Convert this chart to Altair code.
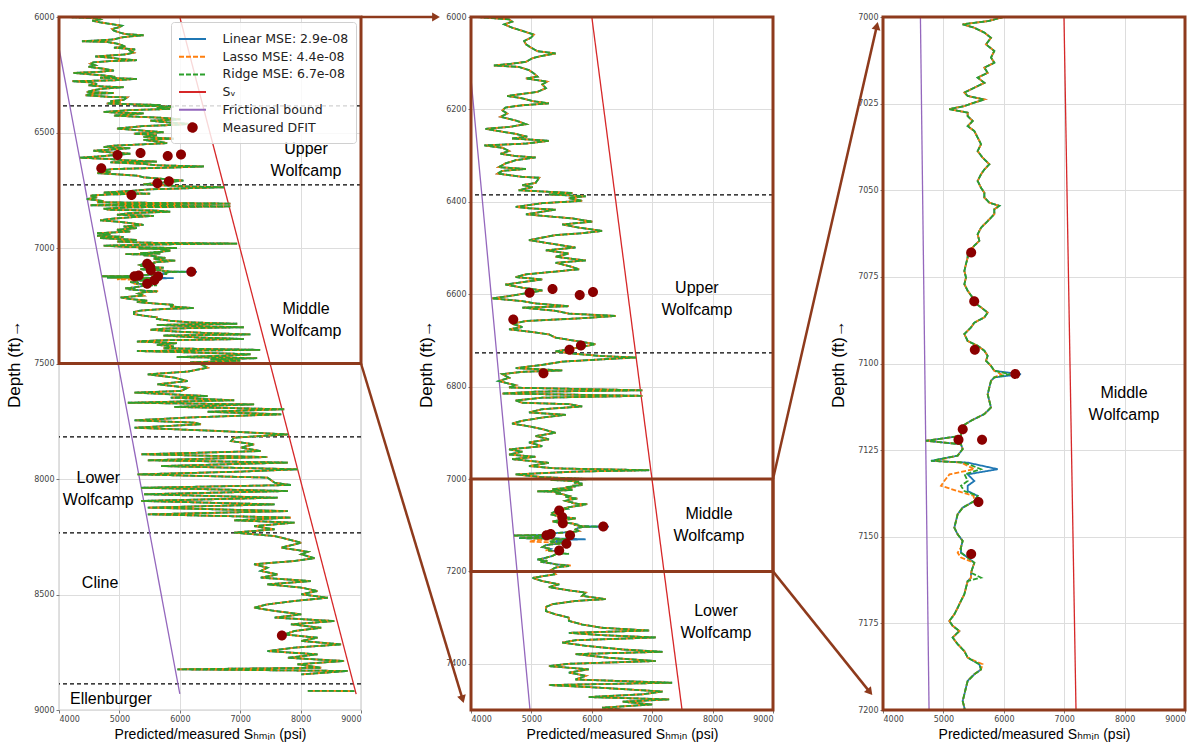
import math
import altair as alt
import pandas as pd

# ---------------------------------------------------------------------------
# Shmin log, 6000-7000 ft (the three regressions coincide at this scale)
upper_depth = [
    6000, 6005, 6010, 6016, 6023, 6030, 6038, 6045, 6052, 6059,
    6066, 6074, 6077, 6079, 6084, 6089, 6097, 6101, 6105, 6108,
    6115, 6122, 6129, 6133, 6140, 6146, 6154, 6162, 6171, 6176,
    6182, 6187, 6191, 6196, 6202, 6209, 6216, 6224, 6232, 6238,
    6242, 6247, 6253, 6259, 6263, 6266, 6268, 6274, 6278, 6283,
    6290, 6296, 6301, 6304, 6310, 6317, 6325, 6329, 6333, 6339,
    6346, 6348, 6359, 6364, 6368, 6375, 6378, 6381, 6384, 6388,
    6392, 6398, 6403, 6411, 6414, 6417, 6427, 6431, 6436, 6443,
    6449, 6456, 6463, 6468, 6472, 6483, 6492, 6499, 6505, 6512,
    6519, 6527, 6532, 6539, 6546, 6551, 6557, 6563, 6568, 6573,
    6579, 6586, 6592, 6597, 6604, 6609, 6615, 6620, 6626, 6629,
    6636, 6642, 6647, 6652, 6658, 6664, 6671, 6676, 6681, 6687,
    6694, 6701, 6708, 6714, 6719, 6724, 6729, 6734, 6737, 6741,
    6746, 6753, 6760, 6765, 6768, 6773, 6781, 6788, 6797, 6802,
    6808, 6811, 6815, 6820, 6824, 6830, 6835, 6838, 6843, 6849,
    6856, 6861, 6867, 6874, 6880, 6886, 6892, 6900, 6907, 6914,
    6921, 6929, 6936, 6941, 6947, 6952, 6957, 6965, 6972, 6977,
    6981, 6984, 6990, 6996,
]
upper_shmin = [
    4100, 4630, 4680, 4550, 4680, 4850, 5040, 4990, 4880, 4910,
    4990, 5100, 5290, 5400, 5180, 5020, 4910, 4680, 4380, 4790,
    4960, 5040, 5100, 4910, 5260, 5180, 5240, 5100, 4600, 4850,
    5020, 5290, 4850, 4570, 4520, 4600, 4490, 4740, 4910, 4630,
    4240, 4460, 4740, 4930, 4680, 5070, 5290, 4910, 4220, 4520,
    4630, 4490, 4740, 5070, 4740, 4570, 4460, 4910, 4520, 4440,
    4850, 5130, 5070, 4850, 5020, 4790, 5240, 5680, 5290, 5900,
    5620, 5840, 5180, 4740, 4960, 5400, 4910, 5240, 5680, 6010,
    5510, 5790, 6170, 5840, 5400, 4960, 5400, 5730, 5240, 5620,
    5400, 5900, 5400, 5620, 5790, 5400, 4910, 4740, 5180, 4910,
    4570, 4850, 5180, 4960, 4630, 4350, 4850, 5070, 5620, 4850,
    5400, 5620, 6400, 5840, 4910, 4680, 4850, 4630, 4960, 5290,
    5400, 5730, 6060, 5840, 5620, 5400, 5730, 6170, 6730, 6170,
    5510, 5180, 4740, 5510, 4850, 4520, 4630, 4460, 4740, 4630,
    6840, 5070, 4520, 6840, 5180, 4740, 4850, 5620, 5840, 5180,
    4960, 5570, 5180, 4850, 4680, 4960, 5180, 5400, 5070, 5290,
    4960, 5180, 4630, 4850, 4630, 5070, 4680, 5290, 4960, 5400,
    6950, 5730, 4740, 5180,
]

# Shmin log, 7000-7200 ft at full resolution (models diverge slightly)
fine_depth = [
    7000.2, 7001.2, 7002.1, 7003.1, 7004.5, 7006.0, 7007.9, 7009.8, 7011.7, 7013.2,
    7014.6, 7016.1, 7017.5, 7019.0, 7020.4, 7021.8, 7022.8, 7023.8, 7024.7, 7025.7,
    7026.6, 7027.6, 7028.6, 7030.0, 7031.5, 7032.9, 7034.8, 7036.7, 7038.7, 7040.6,
    7042.5, 7044.0, 7045.4, 7047.3, 7049.3, 7050.7, 7052.1, 7053.6, 7054.5, 7055.5,
    7056.9, 7058.9, 7060.8, 7062.7, 7064.6, 7066.0, 7068.0, 7069.4, 7071.3, 7073.3,
    7075.2, 7077.1, 7079.0, 7081.0, 7082.4, 7083.8, 7085.3, 7086.7, 7088.2, 7089.6,
    7091.5, 7093.5, 7094.9, 7096.3, 7097.8, 7099.2, 7100.7, 7102.1, 7103.1, 7104.0,
    7105.0, 7106.9, 7108.9, 7110.8, 7112.7, 7114.6, 7116.5, 7118.0, 7119.4, 7120.9,
    7122.3, 7123.3, 7124.7, 7126.6, 7128.1, 7128.6, 7130.5, 7132.0, 7133.9, 7135.3,
    7136.8, 7138.2, 7139.7, 7141.6, 7143.5, 7145.4, 7147.4, 7149.3, 7151.2, 7153.1,
    7154.6, 7156.0, 7157.5, 7158.9, 7160.4, 7161.8, 7162.8, 7164.7, 7166.6, 7168.5,
    7170.5, 7172.4, 7174.3, 7175.7, 7177.2, 7179.1, 7181.0, 7183.0, 7184.9, 7186.8,
    7188.3, 7189.7, 7191.6, 7193.5, 7195.5, 7197.4, 7199.3,
]
fine_linear = [
    5954, 5733, 5319, 5512, 5678, 5788, 5705, 5843, 5788, 5843,
    5678, 5733, 5567, 5678, 5512, 5347, 5402, 5678, 5512, 5347,
    5098, 5402, 5402, 5485, 5402, 5512, 5567, 5623, 5567, 5650,
    5761, 5678, 5623, 5567, 5623, 5678, 5678, 5761, 5926, 5843,
    5843, 5733, 5623, 5567, 5595, 5512, 5402, 5402, 5374, 5347,
    5374, 5347, 5402, 5485, 5512, 5623, 5733, 5678, 5512, 5457,
    5347, 5402, 5567, 5678, 5733, 5705, 5788, 5843, 6285, 5843,
    5788, 5761, 5733, 5761, 5788, 5678, 5457, 5319, 5291, 5291,
    4712, 5291, 5319, 5236, 4795, 5402, 5899, 5402, 5512, 5402,
    5402, 5567, 5512, 5319, 5236, 5209, 5181, 5236, 5319, 5291,
    5291, 5402, 5512, 5485, 5457, 5457, 5402, 5374, 5347, 5291,
    5236, 5181, 5098, 5153, 5264, 5153, 5236, 5347, 5402, 5595,
    5623, 5512, 5402, 5374, 5347, 5319, 5347,
]
fine_lasso = [
    5954, 5733, 5319, 5512, 5678, 5788, 5705, 5843, 5788, 5843,
    5678, 5733, 5567, 5678, 5512, 5347, 5402, 5678, 5512, 5347,
    5098, 5402, 5402, 5485, 5402, 5512, 5567, 5623, 5567, 5650,
    5761, 5678, 5623, 5567, 5623, 5678, 5678, 5761, 5926, 5843,
    5843, 5733, 5623, 5567, 5595, 5512, 5402, 5402, 5374, 5347,
    5374, 5347, 5402, 5485, 5512, 5623, 5733, 5678, 5512, 5457,
    5347, 5402, 5567, 5678, 5733, 5705, 5788, 5843, 5954, 5843,
    5788, 5761, 5733, 5761, 5788, 5678, 5457, 5319, 5291, 5291,
    4712, 5291, 5319, 5236, 4850, 5300, 5510, 5100, 5015, 4960,
    5236, 5500, 5512, 5319, 5236, 5209, 5181, 5236, 5319, 5291,
    5236, 5291, 5512, 5485, 5457, 5457, 5402, 5374, 5347, 5291,
    5236, 5181, 5098, 5153, 5264, 5153, 5236, 5347, 5402, 5650,
    5623, 5512, 5402, 5374, 5347, 5319, 5347,
]
fine_ridge = [
    5954, 5733, 5319, 5512, 5678, 5788, 5705, 5843, 5788, 5843,
    5678, 5733, 5567, 5678, 5512, 5347, 5402, 5678, 5512, 5347,
    5098, 5402, 5402, 5485, 5402, 5512, 5567, 5623, 5567, 5650,
    5761, 5678, 5623, 5567, 5623, 5678, 5678, 5761, 5926, 5843,
    5843, 5733, 5623, 5567, 5595, 5512, 5402, 5402, 5374, 5347,
    5374, 5347, 5402, 5485, 5512, 5623, 5733, 5678, 5512, 5457,
    5347, 5402, 5567, 5678, 5733, 5705, 5788, 5843, 6100, 5843,
    5788, 5761, 5733, 5761, 5788, 5678, 5457, 5319, 5291, 5291,
    4712, 5291, 5319, 5236, 4795, 5350, 5620, 5350, 5402, 5291,
    5347, 5567, 5512, 5319, 5236, 5209, 5181, 5236, 5319, 5291,
    5291, 5402, 5512, 5485, 5457, 5623, 5402, 5374, 5347, 5291,
    5236, 5181, 5098, 5153, 5264, 5153, 5236, 5347, 5402, 5595,
    5623, 5512, 5402, 5374, 5347, 5319, 5347,
]

# Shmin log, 7200-8850 ft
lower_depth = [
    7206, 7214, 7221, 7228, 7234, 7241, 7246, 7253, 7260, 7264,
    7271, 7277, 7286, 7293, 7300, 7307, 7315, 7322, 7328, 7333,
    7338, 7343, 7349, 7354, 7361, 7369, 7374, 7379, 7387, 7394,
    7400, 7405, 7412, 7419, 7426, 7434, 7441, 7446, 7452, 7460,
    7466, 7472, 7477, 7482, 7488, 7495, 7501, 7504, 7518, 7535,
    7547, 7561, 7576, 7590, 7605, 7619, 7626, 7641, 7648, 7659,
    7670, 7677, 7688, 7698, 7709, 7720, 7734, 7746, 7756, 7763,
    7778, 7792, 7807, 7821, 7836, 7850, 7864, 7879, 7893, 7905,
    7919, 7929, 7944, 7958, 7968, 7980, 7994, 8016, 8026, 8038,
    8052, 8066, 8081, 8095, 8110, 8124, 8139, 8153, 8167, 8179,
    8189, 8204, 8218, 8232, 8247, 8261, 8276, 8297, 8315, 8326,
    8343, 8355, 8369, 8384, 8398, 8413, 8427, 8442, 8456, 8470,
    8485, 8499, 8514, 8528, 8543, 8557, 8571, 8586, 8600, 8615,
    8629, 8644, 8658, 8673, 8687, 8701, 8716, 8730, 8745, 8759,
    8774, 8788, 8802, 8817, 8824, 8831, 8846,
]
lower_shmin = [
    5400, 5020, 5180, 5460, 5290, 5620, 5900, 5840, 6230, 5730,
    5350, 5240, 5240, 5400, 5620, 5620, 5840, 6170, 6950, 5620,
    6170, 7060, 5730, 5510, 5900, 6510, 7170, 5730, 6280, 7060,
    5620, 5290, 5950, 5620, 5900, 5730, 7330, 5290, 6170, 7170,
    6840, 5950, 7280, 6510, 7000, 6170, 6620, 6350, 6460, 6130,
    5470, 5910, 6130, 5630, 6130, 6020, 5250, 6460, 5850, 6900,
    5140, 7230, 5910, 7730, 6460, 7680, 6130, 5250, 6240, 6350,
    5250, 6630, 7790, 6900, 6850, 7230, 7010, 7340, 5360, 7450,
    5470, 7790, 5690, 7950, 7010, 5300, 7450, 7570, 7840, 5360,
    7790, 5410, 7620, 5360, 7570, 5470, 7790, 5470, 7840, 6900,
    7900, 7230, 7570, 6900, 7570, 7790, 8010, 7680, 8120, 8010,
    8230, 7900, 7230, 7450, 7340, 7620, 7340, 8170, 7450, 8010,
    8280, 8010, 8450, 7900, 7450, 7230, 7570, 8010, 7570, 8560,
    7840, 8340, 7900, 7730, 8280, 8010, 8670, 7900, 7450, 8280,
    7790, 8720, 7950, 8340, 5960, 8780, 8010,
]

# Isolated Ellenburger reading
ellen_depth = [8917, 8918]
ellen_shmin = [8120, 8890]

# Vertical stress and frictional lower bound
sv_depth = [6000, 8931]
sv_psi = [6000, 8920]
fric_depth = [6134, 8930]
fric_psi = [4000, 6000]

# Measured DFIT closure stresses
dfit_depth = [6597, 6589, 6602, 6595, 6655, 6720, 6711, 6771,
              7068, 7082, 7096, 7103, 7119, 7122, 7122, 7140, 7155, 8677]
dfit_psi = [4970, 5350, 5800, 6020, 4700, 5630, 5820, 5200,
            5460, 5510, 5520, 6190, 5320, 5250, 5640, 5580, 5460, 7690]

# Formation tops
tops_depth = [6385, 6727, 7818, 8233, 8887]

# Formation names: panel, text, psi, depth of the first line
label_panel = ["L", "L", "L", "L", "L", "M", "M", "M", "R"]
label_text = ["Upper\nWolfcamp", "Middle\nWolfcamp", "Lower\nWolfcamp", "Cline",
              "Ellenburger", "Upper\nWolfcamp", "Middle\nWolfcamp",
              "Lower\nWolfcamp", "Middle\nWolfcamp"]
label_psi = [8090, 8090, 4650, 4680, 4860, 7740, 7940, 8056, 7990]
label_depth = [6571, 7264, 7996, 8450, 8952, 6587, 7076, 7286, 7108.5]

SERIES = ["Linear MSE: 2.9e-08", "Lasso MSE: 4.4e-08", "Ridge MSE: 6.7e-08",
          "Sᵥ", "Frictional bound", "Measured DFIT"]
COLORS = ["#1f77b4", "#ff7f0e", "#2ca02c", "#d62728", "#9467bd", "#8b0000"]
DASHES = [[1, 0], [5, 2], [5, 2], [1, 0], [1, 0], [1, 0]]
# legend glyphs: a wide line for the curves, a dot for the measurements
LINE = "M-1.5,0L1.5,0"
DOT = "M0.47,0A0.47,0.47,0,1,1,-0.47,0A0.47,0.47,0,1,1,0.47,0Z"
SHAPES = [LINE, LINE, LINE, LINE, LINE, DOT]

BROWN = "#8e3a1c"
W, H = 302, 693
GAP = 110
XTITLE = "Predicted/measured Sₕₘᵢₙ (psi)"
YTITLE = "Depth (ft)→"
FONT = "Liberation Sans, DejaVu Sans"

# ---------------------------------------------------------------------------
# long-form tables
log_rows = []
model_fine = {SERIES[0]: fine_linear, SERIES[1]: fine_lasso, SERIES[2]: fine_ridge}
for s in SERIES[:3]:
    for d, v in zip(upper_depth, upper_shmin):
        log_rows.append((d, v, s, 0))
    for d, v in zip(fine_depth, model_fine[s]):
        log_rows.append((d, v, s, 0))
    for d, v in zip(lower_depth, lower_shmin):
        log_rows.append((d, v, s, 0))
    for d, v in zip(ellen_depth, ellen_shmin):
        log_rows.append((d, v, s, 1))
log_df = pd.DataFrame(log_rows, columns=["depth", "psi", "series", "seg"])

bound_df = pd.DataFrame(
    [(d, v, SERIES[3]) for d, v in zip(sv_depth, sv_psi)]
    + [(d, v, SERIES[4]) for d, v in zip(fric_depth, fric_psi)],
    columns=["depth", "psi", "series"])
dfit_df = pd.DataFrame({"depth": dfit_depth, "psi": dfit_psi, "series": SERIES[5]})
label_df = pd.DataFrame({"panel": label_panel, "text": label_text,
                         "psi": label_psi, "depth": label_depth})
one = pd.DataFrame({"k": [0]})


def arrow(x0, y0, x1, y1):
    """Brown arrow in pixel space of the panel it is layered on."""
    ang = math.degrees(math.atan2(y1 - y0, x1 - x0))
    length = math.hypot(x1 - x0, y1 - y0)
    hx = x1 - 5 * (x1 - x0) / length
    hy = y1 - 5 * (y1 - y0) / length
    shaft = alt.Chart(one).mark_rule(color=BROWN, strokeWidth=2.5).encode(
        x=alt.value(x0), y=alt.value(y0), x2=alt.value(hx), y2=alt.value(hy))
    head = alt.Chart(one).mark_point(
        shape="triangle-up", filled=True, opacity=1, color=BROWN, size=80,
        angle=(ang + 90) % 360).encode(x=alt.value(hx), y=alt.value(hy))
    return [shaft, head]


def panel(key, lo, hi, step, boxes, show_legend, extra=()):
    xs = alt.X("psi:Q", scale=alt.Scale(domain=[4000, 9000], nice=False, zero=False),
               axis=alt.Axis(values=list(range(4000, 9001, 1000)), title=XTITLE, format="d"))
    ys = alt.Y("depth:Q",
               scale=alt.Scale(domain=[lo, hi], reverse=True, nice=False, zero=False),
               axis=alt.Axis(values=list(range(lo, hi + 1, step)), title=YTITLE, format="d"))
    leg = alt.Legend(title=None, orient="top-right", offset=5,
                     fillColor="rgba(255,255,255,0.82)", strokeColor="#d0d0d0",
                     padding=7, cornerRadius=3, labelFont="DejaVu Sans",
                     labelFontSize=12.5, labelColor="#222222", rowPadding=0.7,
                     symbolStrokeWidth=2, symbolSize=324, symbolOffset=4.5,
                     labelOffset=20) if show_legend else None
    col = alt.Color("series:N", scale=alt.Scale(domain=SERIES, range=COLORS), legend=leg)
    dash = alt.StrokeDash("series:N", scale=alt.Scale(domain=SERIES, range=DASHES), legend=leg)
    shp = alt.Shape("series:N", scale=alt.Scale(domain=SERIES, range=SHAPES), legend=leg)

    logs = log_df[(log_df.depth >= lo - 30) & (log_df.depth <= hi + 30)]
    tops = pd.DataFrame({"depth": [t for t in tops_depth if lo < t < hi]})
    rects = pd.DataFrame({"psi": [4000] * len(boxes), "psi2": [9000] * len(boxes),
                          "depth": [b[0] for b in boxes], "depth2": [b[1] for b in boxes]})
    dfit = dfit_df[(dfit_df.depth >= lo) & (dfit_df.depth <= hi)]
    labels = label_df[label_df.panel == key]

    layers = []
    layers.append(alt.Chart(tops).mark_rule(color="black", strokeDash=[4, 3], strokeWidth=1.2)
                  .encode(y=ys))
    layers.append(alt.Chart(bound_df).mark_line(clip=True, strokeWidth=1.3)
                  .encode(x=xs, y=ys, color=col, detail="series:N", order="depth:Q"))
    for s, off in zip(SERIES[:3], [0, 3.5, 0]):
        sub = logs[logs.series == s]
        layers.append(alt.Chart(sub).mark_line(clip=True, strokeWidth=1.8, strokeDashOffset=off)
                      .encode(x=xs, y=ys, color=col, strokeDash=dash,
                              detail="seg:N", order="depth:Q"))
    layers.append(alt.Chart(dfit).mark_point(filled=True, opacity=1, clip=True, size=453)
                  .encode(x=xs, y=ys, color=col, shape=shp))
    layers.append(alt.Chart(labels).mark_text(font=FONT, fontSize=16, lineBreak="\n",
                                              lineHeight=22, align="center",
                                              baseline="middle", color="black")
                  .encode(x=xs, y=ys, text="text:N"))
    layers.append(alt.Chart(rects).mark_rect(filled=False, stroke=BROWN, strokeWidth=3)
                  .encode(x=xs, x2="psi2:Q", y=ys, y2="depth2:Q"))
    layers.extend(extra)
    return alt.layer(*layers).properties(width=W, height=H)


# zoom windows drawn as brown boxes
left_boxes = [(6000, 7500)]
mid_boxes = [(6000, 7500), (7000, 7200)]
right_boxes = [(7000, 7200)]

# arrows from the zoom boxes to the panels they expand (pixel space of middle panel)
y_7500_left = H * (7500 - 6000) / 3000
y_7000_mid = H * (7000 - 6000) / 1500
y_7200_mid = H * (7200 - 6000) / 1500
right_origin = W + GAP
arrows = (arrow(-GAP, 0, -30, 0)
          + arrow(-GAP, y_7500_left, -7, H - 6)
          + arrow(W, y_7000_mid, right_origin - 5, 4)
          + arrow(W, y_7200_mid, right_origin - 10, H - 14))

left = panel("L", 6000, 9000, 500, left_boxes, True)
mid = panel("M", 6000, 7500, 200, mid_boxes, False, arrows)
right = panel("R", 7000, 7200, 25, right_boxes, False)

chart = (alt.hconcat(left, mid, right, spacing=GAP, bounds="flush")
         .resolve_scale(x="independent", y="independent", color="independent",
                        strokeDash="independent", shape="independent")
         .properties(padding={"left": 5, "right": 5, "top": 11, "bottom": 2},
                     background="white")
         .configure_view(stroke="#999999", strokeWidth=1.2)
         .configure_axis(labelFont="DejaVu Sans", labelFontSize=8, labelColor="#444444",
                         tickSize=3, tickColor="#777777", labelPadding=2, domain=False,
                         gridColor="#dddddd", gridWidth=1, titleFont=FONT,
                         titleFontWeight="normal", titleColor="black")
         .configure_axisY(titleFontSize=17, titlePadding=10)
         .configure_axisX(titleFontSize=14, titlePadding=4))

chart.save("out.html", embed_options={"renderer": "svg", "actions": False})
